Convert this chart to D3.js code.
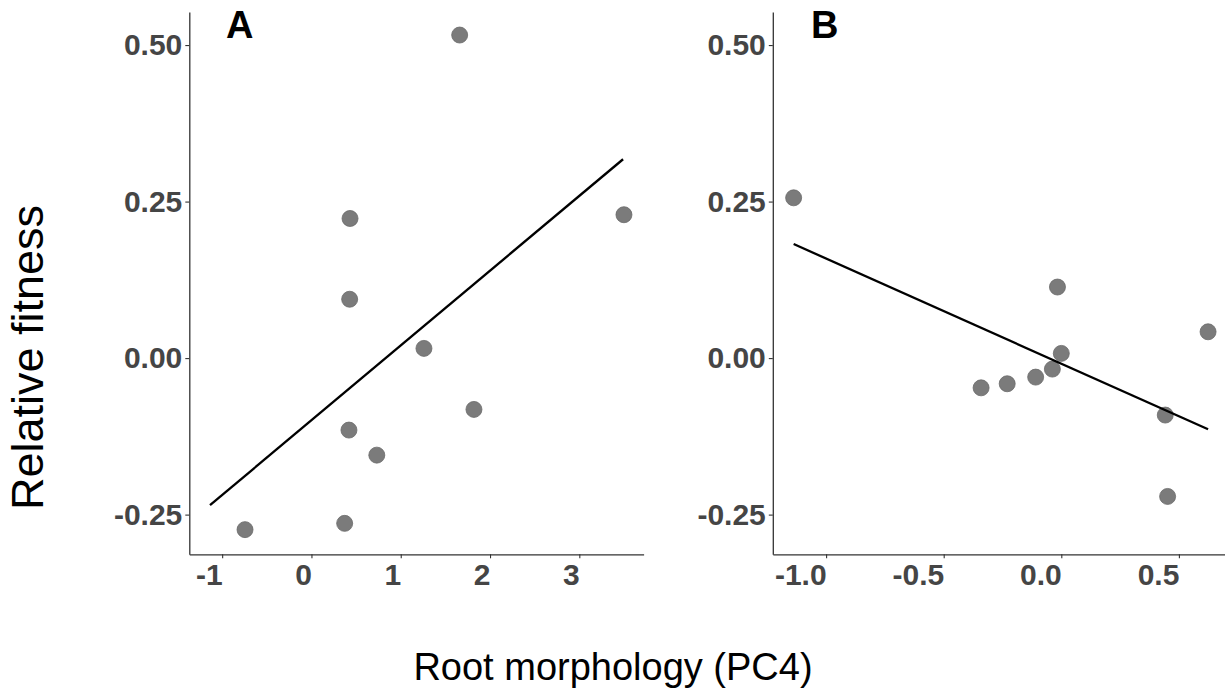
<!DOCTYPE html>
<html>
<head>
<meta charset="utf-8">
<script src="https://cdn.jsdelivr.net/npm/d3@7"></script>
<style>
  body { margin: 0; background: #fff; }
  svg { display: block; }
</style>
</head>
<body>
<svg id="chart" width="1225" height="700"></svg>
<script>
// data
var xA = [1.66, 0.432, 3.50, 0.428, 1.26, 1.82, 0.42, 0.732, 0.372, -0.744];
var yA = [0.516, 0.223, 0.229, 0.094, 0.0155, -0.082, -0.115, -0.155, -0.264, -0.274];
var lineXA = [-1.136, 3.49];   // fitted line extent in panel A

var xB = [-1.138, -0.0163, 0.624, 0.0, -0.038, -0.109, -0.230, -0.341, 0.442, 0.452];
var yB = [0.256, 0.1135, 0.042, 0.0075, -0.0176, -0.0304, -0.041, -0.0475, -0.091, -0.221];

var yTicks = [-0.25, 0, 0.25, 0.5];
var xTicksA = [-1, 0, 1, 2, 3];
var xTicksB = [-1.0, -0.5, 0.0, 0.5];
var panelLabels = ["A", "B"];

var svg = d3.select("#chart");
var tickFont = "'Liberation Sans', Arial, sans-serif";

var y = d3.scaleLinear().domain([-0.3134, 0.5528]).range([554.3, 12]);

// ordinary least squares
function ols(xs, ys) {
  var mx = d3.mean(xs), my = d3.mean(ys);
  var sxy = d3.sum(xs, function(d, i) { return (d - mx) * (ys[i] - my); });
  var sxx = d3.sum(xs, function(d) { return (d - mx) * (d - mx); });
  var b = sxy / sxx;
  return function(x) { return my + b * (x - mx); };
}

function fmt(f) {
  return function(d) { return d3.format(f)(d).replace("\u2212", "-"); };
}

function panel(xs, ys, lineX, xDomain, xRange, xTicks, xFmt, label, labelX) {
  var x = d3.scaleLinear().domain(xDomain).range(xRange);
  var g = svg.append("g");

  // y axis
  var ya = g.append("g")
    .attr("transform", "translate(" + xRange[0] + ",0)")
    .call(d3.axisLeft(y).tickValues(yTicks).tickFormat(fmt(".2f"))
      .tickSize(4).tickPadding(3).tickSizeOuter(0));
  // x axis
  var xa = g.append("g")
    .attr("transform", "translate(0," + y.range()[0] + ")")
    .call(d3.axisBottom(x).tickValues(xTicks).tickFormat(fmt(xFmt))
      .tickSize(4).tickPadding(5).tickSizeOuter(0));

  [ya, xa].forEach(function(a) {
    a.select(".domain").attr("stroke", "#333").attr("stroke-width", 1.3);
    a.selectAll(".tick line").attr("stroke", "#333").attr("stroke-width", 1.1);
    a.selectAll(".tick text")
      .attr("fill", "#454545")
      .style("font-family", tickFont)
      .style("font-size", "30px")
      .style("font-weight", "bold");
  });
  // x labels sit to the left of their ticks, like the original
  xa.selectAll(".tick text").attr("text-anchor", "end").attr("x", 0);

  // points
  g.selectAll("circle")
    .data(xs)
    .enter()
    .append("circle")
    .attr("cx", function(d) { return x(d); })
    .attr("cy", function(d, i) { return y(ys[i]); })
    .attr("r", 8)
    .attr("fill", "#7b7b7b")
    .attr("stroke", "#6a6a6a")
    .attr("stroke-width", 0.8);

  // fit line
  var fit = ols(xs, ys);
  g.append("path")
    .datum(lineX)
    .attr("fill", "none")
    .attr("stroke", "#000")
    .attr("stroke-width", 2.3)
    .attr("d", d3.line()
      .x(function(d) { return x(d); })
      .y(function(d) { return y(fit(d)); }));

  g.append("text")
    .attr("x", labelX)
    .attr("y", 38.3)
    .style("font-family", tickFont)
    .style("font-size", "38px")
    .style("font-weight", "bold")
    .attr("fill", "#000")
    .text(label);
}

panel(xA, yA, lineXA, [-1.368, 3.72], [189.3, 643.6], xTicksA, "d", panelLabels[0], 226);
panel(xB, yB, d3.extent(xB), [-1.2266, 0.696], [772.8, 1225], xTicksB, ".1f", panelLabels[1], 811);

// axis titles
svg.append("text")
  .attr("transform", "translate(43,357.5) rotate(-90)")
  .attr("text-anchor", "middle")
  .style("font-family", tickFont)
  .style("font-size", "45px")
  .attr("fill", "#000")
  .text("Relative fitness");

svg.append("text")
  .attr("x", 613)
  .attr("y", 680)
  .attr("text-anchor", "middle")
  .style("font-family", tickFont)
  .style("font-size", "38px")
  .attr("fill", "#000")
  .text("Root morphology (PC4)");
</script>
</body>
</html>
